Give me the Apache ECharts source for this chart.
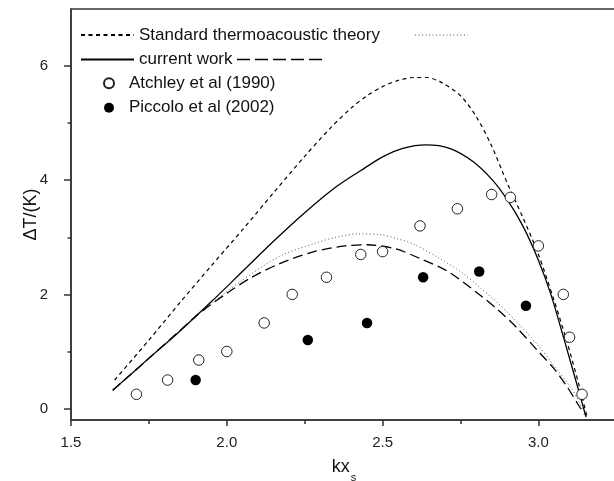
<!DOCTYPE html>
<html>
<head>
<meta charset="utf-8">
<script src="https://cdn.jsdelivr.net/npm/echarts@6/dist/echarts.min.js"></script>
<style>
html,body{margin:0;padding:0;background:#fff;}
#c{width:614px;height:481px;}
</style>
</head>
<body>
<div id="c"></div>
<script>
// ---- data ----
var stdX  = [1.64,1.75,1.85,1.95,2.05,2.15,2.25,2.33,2.40,2.45,2.50,2.55,2.60,2.64,2.69,2.75,2.80,2.85,2.90,2.95,3.00,3.05,3.09,3.13,3.155];
var stdY  = [0.50,1.20,1.86,2.50,3.13,3.78,4.42,4.90,5.27,5.48,5.64,5.75,5.80,5.80,5.71,5.48,5.12,4.60,3.95,3.35,2.70,1.90,1.20,0.42,-0.12];

var curX  = [1.634,1.75,1.85,1.95,2.05,2.15,2.25,2.35,2.43,2.50,2.565,2.64,2.715,2.79,2.85,2.90,2.95,3.00,3.04,3.08,3.13,3.153];
var curY  = [0.32,0.88,1.36,1.87,2.40,2.93,3.43,3.88,4.17,4.41,4.56,4.62,4.56,4.33,4.02,3.66,3.20,2.60,2.00,1.26,0.30,-0.15];

var std2X = [1.634,1.75,1.84,1.95,2.05,2.17,2.28,2.35,2.42,2.49,2.55,2.60,2.68,2.75,2.81,2.87,2.93,3.00,3.05,3.11,3.145];
var std2Y = [0.32,0.88,1.32,1.84,2.25,2.67,2.89,3.00,3.06,3.05,2.97,2.88,2.64,2.40,2.13,1.85,1.52,1.10,0.75,0.32,-0.05];

var cur2X = [1.634,1.75,1.84,1.91,2.00,2.08,2.17,2.28,2.38,2.45,2.54,2.62,2.71,2.81,2.87,2.93,3.00,3.05,3.09,3.13,3.148];
var cur2Y = [0.32,0.88,1.32,1.66,2.02,2.30,2.54,2.75,2.85,2.87,2.80,2.63,2.40,2.00,1.73,1.42,1.00,0.70,0.40,0.05,-0.10];

var atchleyX = [1.71,1.81,1.91,2.00,2.12,2.21,2.32,2.43,2.50,2.62,2.74,2.85,2.91,3.00,3.08,3.10,3.14];
var atchleyY = [0.25,0.50,0.85,1.00,1.50,2.00,2.30,2.70,2.75,3.20,3.50,3.75,3.70,2.85,2.00,1.25,0.25];

var piccoloX = [1.90,2.26,2.45,2.63,2.81,2.96];
var piccoloY = [0.50,1.20,1.50,2.30,2.40,1.80];

var yMajor = [0,2,4,6];
var yMinor = [1,3,5];

var names = {
  std: 'Standard thermoacoustic theory',
  cur: 'current work',
  atc: 'Atchley et al (1990)',
  pic: 'Piccolo et al (2002)'
};

function pairs(xs, ys){ return xs.map(function(x,i){ return [x, ys[i]]; }); }

var FONT = 'Liberation Sans, Arial, sans-serif';
var AX = '#333';

var chart = echarts.init(document.getElementById('c'), null, {renderer:'canvas'});

var yBase = {type:'value', min:-0.2, max:7, gridIndex:0, position:'left'};

var option = {
  backgroundColor:'#fff',
  animation:false,
  grid:{left:71, top:9, width:623.2, height:411, show:true, borderColor:AX, borderWidth:1.5,
        backgroundColor:'transparent', containLabel:false, outerBoundsMode:'none'},
  legend:[
    {
      data:[names.std, names.cur],
      orient:'vertical', left:80, top:26.5, padding:0,
      itemWidth:53, itemHeight:12, itemGap:7.4,
      selectedMode:false,
      itemStyle:{opacity:0},
      textStyle:{fontFamily:FONT, fontSize:17, color:'#111', lineHeight:17}
    },
    {
      data:[names.atc, names.pic],
      orient:'vertical', left:103, top:74.8, padding:0,
      itemWidth:30, itemHeight:10, itemGap:7.4,
      selectedMode:false,
      textStyle:{fontFamily:FONT, fontSize:17, color:'#111', lineHeight:17}
    }
  ],
  xAxis:{
    type:'value', min:1.5, max:3.5, interval:0.5, position:'bottom',
    name:'{a|kx}{s|s}', nameLocation:'middle', nameGap:38, nameMoveOverlap:false,
    nameTextStyle:{padding:[0,77,0,0], rich:{
      a:{fontFamily:FONT, fontSize:18, color:'#111', lineHeight:20, verticalAlign:'top'},
      s:{fontFamily:FONT, fontSize:11, color:'#111', lineHeight:11, padding:[14,0,0,1], verticalAlign:'top'}
    }},
    axisLine:{show:true, onZero:false, lineStyle:{color:AX, width:1.5}},
    axisTick:{show:true, inside:false, length:6, lineStyle:{color:AX, width:1.5}},
    minorTick:{show:true, splitNumber:2, length:4, lineStyle:{color:AX, width:1.5}},
    axisLabel:{show:true, margin:15, fontFamily:FONT, fontSize:15, color:'#222',
      formatter:function(v){ return v.toFixed(1); }},
    splitLine:{show:false}, minorSplitLine:{show:false}
  },
  yAxis:[
    Object.assign({}, yBase, {
      name:'\u0394T/(K)', nameLocation:'middle', nameGap:31, nameMoveOverlap:false,
      nameTextStyle:{fontFamily:FONT, fontSize:18, color:'#111'},
      axisLine:{show:true, onZero:false, lineStyle:{color:AX, width:1.5}},
      axisTick:{show:true, inside:false, length:7, customValues:yMajor, lineStyle:{color:AX, width:1.5}},
      axisLabel:{show:true, margin:23, customValues:yMajor, fontFamily:FONT, fontSize:15, color:'#222'},
      splitLine:{show:false}
    }),
    Object.assign({}, yBase, {
      axisLine:{show:false, onZero:false},
      axisTick:{show:true, inside:false, length:3.5, customValues:yMinor, lineStyle:{color:AX, width:1.5}},
      axisLabel:{show:false},
      splitLine:{show:false}
    })
  ],
  graphic:[
    {type:'line', shape:{x1:415, y1:35, x2:468, y2:35}, style:{stroke:'#555', lineWidth:1, lineDash:[1,2.5]}, silent:true},
    {type:'line', shape:{x1:237, y1:59.5, x2:325, y2:59.5}, style:{stroke:'#000', lineWidth:1.4, lineDash:[13,5]}, silent:true}
  ],
  series:[
    {
      name:names.std, type:'line', yAxisIndex:0,
      data:pairs(stdX, stdY), symbol:'none', smooth:0.3,
      lineStyle:{color:'#000', width:1.2, type:[4,3.5]}, itemStyle:{color:'#000'}, z:3
    },
    {
      name:names.cur, type:'line', yAxisIndex:0,
      data:pairs(curX, curY), symbol:'none', smooth:0.3,
      lineStyle:{color:'#000', width:1.3, type:'solid'}, itemStyle:{color:'#000'}, z:3
    },
    {
      name:'std2', type:'line', yAxisIndex:0,
      data:pairs(std2X, std2Y), symbol:'none', smooth:0.3,
      lineStyle:{color:'#555', width:1, type:[1,2.5]}, itemStyle:{color:'#555'}, z:3
    },
    {
      name:'cur2', type:'line', yAxisIndex:0,
      data:pairs(cur2X, cur2Y), symbol:'none', smooth:0.3,
      lineStyle:{color:'#000', width:1.3, type:[10,5]}, itemStyle:{color:'#000'}, z:3
    },
    {
      name:names.atc, type:'scatter', yAxisIndex:0,
      data:pairs(atchleyX, atchleyY), symbol:'circle', symbolSize:10.5,
      itemStyle:{color:'#fff', borderColor:'#222', borderWidth:1, opacity:1}, z:4
    },
    {
      name:names.pic, type:'scatter', yAxisIndex:0,
      data:pairs(piccoloX, piccoloY), symbol:'circle', symbolSize:10.5,
      itemStyle:{color:'#000', borderColor:'#000', borderWidth:0, opacity:1}, z:4
    }
  ]
};
chart.setOption(option);
</script>
</body>
</html>
